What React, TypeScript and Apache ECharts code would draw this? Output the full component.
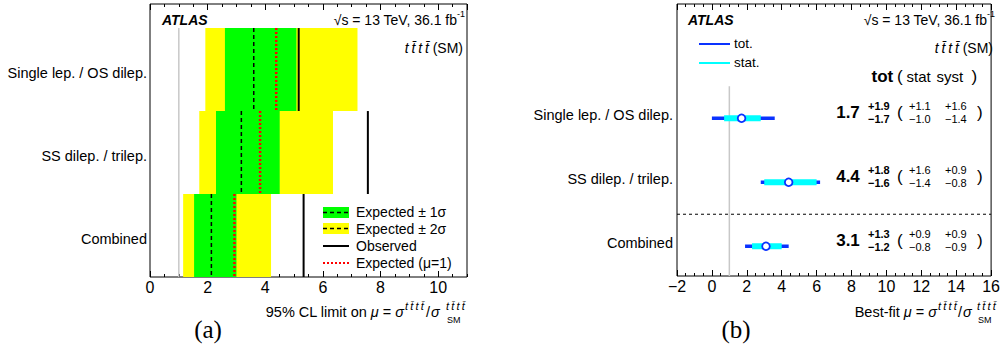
import React, { useEffect, useRef } from "react";
import * as echarts from "echarts";

// ---------- data ----------
const rowLabels = ["Single lep. / OS dilep.", "SS dilep. / trilep.", "Combined"];

// (a) 95% CL limits on mu
const exp2Lo = [1.92, 1.71, 1.15];
const exp2Hi = [7.2, 6.35, 4.2];
const exp1Lo = [2.6, 2.29, 1.53];
const exp1Hi = [5.08, 4.5, 3.0];
const expLimit = [3.6, 3.17, 2.13];
const expMu1 = [4.38, 3.82, 2.93];
const obsLimit = [5.16, 7.56, 5.33];
const smValue = 1;

// (b) best-fit mu
const bestFit = [1.7, 4.4, 3.1];
const totUp = [1.9, 1.8, 1.3];
const totDn = [1.7, 1.6, 1.2];
const statUp = [1.1, 1.6, 0.9];
const statDn = [1.0, 1.4, 0.8];
const systUp = [1.6, 0.9, 0.9];
const systDn = [1.4, 0.8, 0.9];

const SANS = "'Liberation Sans', Arial, Helvetica, sans-serif";
const SERIF = "'Liberation Serif', 'Times New Roman', serif";
const TS = "\u2009";
const TTTT = "t" + TS + "t\u0304" + TS + "t" + TS + "t\u0304";
const MINUS = "\u2212";

function txt(x: number, y: number, text: string, opts: any = {}) {
  const align = opts.align || "left";
  const va = opts.va || "middle";
  return {
    type: "text",
    x,
    y,
    silent: true,
    style: {
      text,
      fill: "#000",
      fontSize: opts.size || 14,
      fontFamily: opts.family || SANS,
      fontWeight: opts.weight || "normal",
      fontStyle: opts.style || "normal",
      align,
      textAlign: align,
      verticalAlign: va,
      textVerticalAlign: va,
      rich: opts.rich,
    },
  };
}

function xAxes(gridIndex: number, min: number, max: number) {
  const base = (position: string, interval: number, len: number, label: boolean) => ({
    type: "value",
    gridIndex,
    min,
    max,
    position,
    interval,
    axisLine: { show: false, onZero: false },
    splitLine: { show: false },
    axisTick: { show: true, inside: true, length: len, lineStyle: { color: "#000", width: 1 } },
    axisLabel: label
      ? {
          show: true,
          margin: 2,
          color: "#000",
          fontSize: 16,
          fontFamily: SANS,
          showMaxLabel: max % 2 === 0,
          formatter: (v: number) => (Math.abs(v % 2) < 1e-9 ? (v < 0 ? MINUS + Math.abs(v) : String(v)) : ""),
        }
      : { show: false },
  });
  return [
    base("bottom", 2, 6, true),
    base("bottom", 0.5, 3, false),
    base("top", 2, 6, false),
    base("top", 0.5, 3, false),
  ];
}

export default function App() {
  const ref = useRef<HTMLDivElement>(null);
  useEffect(() => {
    if (!ref.current) return;
    const chart = echarts.init(ref.current, undefined, { renderer: "svg" });

    const leftData = rowLabels.map((_, i) => [
      i, exp2Lo[i], exp2Hi[i], exp1Lo[i], exp1Hi[i], expLimit[i], expMu1[i], obsLimit[i],
    ]);
    const rightData = rowLabels.map((_, i) => [
      i, bestFit[i], totUp[i], totDn[i], statUp[i], statDn[i], systUp[i], systDn[i],
    ]);

    const fmt = (v: number) => v.toFixed(1);
    const smRich = {
      i: { fontStyle: "italic", fontSize: 14, fontFamily: SANS },
      n: { fontSize: 14, fontFamily: SANS },
    };
    const titleRich = {
      i: { fontStyle: "italic", fontSize: 14.5, fontFamily: SANS },
      n: { fontSize: 14.5, fontFamily: SANS },
    };

    const option: any = {
      animation: false,
      backgroundColor: "#fff",
      grid: [
        { left: 150, top: 4, width: 317, height: 273, show: true, borderColor: "#000", borderWidth: 1, backgroundColor: "transparent" },
        { left: 677, top: 4, width: 319, height: 272, show: true, borderColor: "#000", borderWidth: 1, backgroundColor: "transparent" },
      ],
      xAxis: [...xAxes(0, 0, 11), ...xAxes(1, -2, 16)],
      yAxis: [
        { type: "value", gridIndex: 0, min: -0.29, max: 3, inverse: true, show: false },
        { type: "value", gridIndex: 1, min: -1.785, max: 2.465, inverse: true, show: false },
      ],
      series: [
        // (a) SM reference line
        {
          type: "custom",
          xAxisIndex: 0,
          yAxisIndex: 0,
          data: [[smValue]],
          renderItem: (params: any, api: any) => {
            const a = api.coord([api.value(0), 0]);
            const b = api.coord([api.value(0), rowLabels.length]);
            return {
              type: "line",
              shape: { x1: a[0], y1: a[1], x2: b[0], y2: b[1] },
              style: { stroke: "#c8c8c8", lineWidth: 1.5 },
            };
          },
        },
        // (a) bands and lines
        {
          type: "custom",
          xAxisIndex: 0,
          yAxisIndex: 0,
          data: leftData,
          renderItem: (params: any, api: any) => {
            const i = api.value(0);
            const yT = api.coord([0, i])[1];
            const yB = api.coord([0, i + 1])[1];
            const X = (v: number) => api.coord([v, i])[0];
            const vline = (v: number, style: any) => ({
              type: "line",
              shape: { x1: X(v), y1: yT, x2: X(v), y2: yB },
              style,
            });
            return {
              type: "group",
              children: [
                { type: "rect", shape: { x: X(api.value(1)), y: yT, width: X(api.value(2)) - X(api.value(1)), height: yB - yT }, style: { fill: "#ffff00" } },
                { type: "rect", shape: { x: X(api.value(3)), y: yT, width: X(api.value(4)) - X(api.value(3)), height: yB - yT }, style: { fill: "#00ff00" } },
                vline(api.value(5), { stroke: "#000", lineWidth: 1.5, lineDash: [4, 3] }),
                vline(api.value(6), { stroke: "#ff0000", lineWidth: 2.5, lineDash: [2, 2] }),
                vline(api.value(7), { stroke: "#000", lineWidth: 2 }),
                txt(params.coordSys.x - 3, (yT + yB) / 2 + 3, rowLabels[i], { align: "right", size: 14.5 }),
              ],
            };
          },
        },
        // (b) reference lines
        {
          type: "custom",
          xAxisIndex: 4,
          yAxisIndex: 1,
          data: [[smValue]],
          renderItem: (params: any, api: any) => {
            const a = api.coord([api.value(0), -0.5]);
            const b = api.coord([api.value(0), 2.465]);
            const l = api.coord([-2, 1.5]);
            const r = api.coord([16, 1.5]);
            return {
              type: "group",
              children: [
                { type: "line", shape: { x1: a[0], y1: a[1], x2: b[0], y2: b[1] }, style: { stroke: "#c8c8c8", lineWidth: 1.5 } },
                { type: "line", shape: { x1: l[0], y1: l[1], x2: r[0], y2: r[1] }, style: { stroke: "#000", lineWidth: 1, lineDash: [3, 3] } },
              ],
            };
          },
        },
        // (b) best-fit points
        {
          type: "custom",
          xAxisIndex: 4,
          yAxisIndex: 1,
          data: rightData,
          renderItem: (params: any, api: any) => {
            const i = api.value(0);
            const mu = api.value(1);
            const tu = api.value(2), td = api.value(3), su = api.value(4), sd = api.value(5), yu = api.value(6), yd = api.value(7);
            const c = api.coord([mu, i]);
            const y = c[1];
            const X = (v: number) => api.coord([v, i])[0];
            const ty = y - 6;
            return {
              type: "group",
              children: [
                { type: "line", shape: { x1: X(mu - td), y1: y, x2: X(mu + tu), y2: y }, style: { stroke: "#0a32ff", lineWidth: 3.5 } },
                { type: "line", shape: { x1: X(mu - sd), y1: y, x2: X(mu + su), y2: y }, style: { stroke: "#00ffff", lineWidth: 6 } },
                { type: "circle", shape: { cx: c[0], cy: y, r: 3.8 }, style: { fill: "#fff", stroke: "#0a32ff", lineWidth: 1.8 } },
                txt(params.coordSys.x - 4, y - 3, rowLabels[i], { align: "right", size: 14.5 }),
                txt(848, ty, fmt(mu), { align: "center", size: 17, weight: "bold" }),
                txt(868, ty - 6.5, "+" + fmt(tu), { size: 11, weight: "bold" }),
                txt(868, ty + 6.5, MINUS + fmt(td), { size: 11, weight: "bold" }),
                txt(897, ty, "(", { size: 17 }),
                txt(909, ty - 6.5, "+" + fmt(su), { size: 11 }),
                txt(909, ty + 6.5, MINUS + fmt(sd), { size: 11 }),
                txt(945, ty - 6.5, "+" + fmt(yu), { size: 11 }),
                txt(945, ty + 6.5, MINUS + fmt(yd), { size: 11 }),
                txt(977, ty, ")", { size: 17 }),
              ],
            };
          },
        },
      ],
      graphic: [
        // panel (a) annotations
        txt(162, 20, "ATLAS", { size: 14, weight: "bold", style: "italic" }),
        txt(457, 20, "\u221As = 13 TeV, 36.1 fb", { align: "right", size: 14 }),
        txt(457, 14, "-1", { size: 9 }),
        txt(463, 48, "{i|" + TTTT + "}{n| (SM)}", { align: "right", rich: smRich }),
        // legend (a)
        { type: "rect", shape: { x: 323, y: 207, width: 26, height: 11 }, style: { fill: "#00ff00" } },
        { type: "line", shape: { x1: 323, y1: 212.5, x2: 349, y2: 212.5 }, style: { stroke: "#000", lineWidth: 1.5, lineDash: [4, 3] } },
        { type: "rect", shape: { x: 323, y: 223, width: 26, height: 11 }, style: { fill: "#ffff00" } },
        { type: "line", shape: { x1: 323, y1: 228.5, x2: 349, y2: 228.5 }, style: { stroke: "#000", lineWidth: 1.5, lineDash: [4, 3] } },
        { type: "line", shape: { x1: 323, y1: 246, x2: 349, y2: 246 }, style: { stroke: "#000", lineWidth: 2 } },
        { type: "line", shape: { x1: 323, y1: 263, x2: 349, y2: 263 }, style: { stroke: "#ff0000", lineWidth: 2, lineDash: [2, 2] } },
        txt(356, 212, "Expected \u00B1 1\u03C3", { size: 14 }),
        txt(356, 228.5, "Expected \u00B1 2\u03C3", { size: 14 }),
        txt(356, 245.5, "Observed", { size: 14 }),
        txt(356, 263, "Expected (\u03BC=1)", { size: 14 }),
        // x title (a)
        txt(404, 312, "{n|95% CL limit on }{i|\u03BC}{n| = }{i|\u03C3}", { align: "right", rich: titleRich }),
        txt(405, 306, TTTT, { size: 11, style: "italic" }),
        txt(426, 312, "/", { size: 14.5 }),
        txt(431, 312, "\u03C3", { size: 14.5, style: "italic" }),
        txt(446, 306, TTTT, { size: 11, style: "italic" }),
        txt(447, 320, "SM", { size: 9 }),
        txt(208, 329, "(a)", { align: "center", size: 25, family: SERIF }),

        // panel (b) annotations
        txt(688, 20, "ATLAS", { size: 14, weight: "bold", style: "italic" }),
        txt(987, 20, "\u221As = 13 TeV, 36.1 fb", { align: "right", size: 14 }),
        txt(987, 14, "-1", { size: 9 }),
        txt(993, 48, "{i|" + TTTT + "}{n| (SM)}", { align: "right", rich: smRich }),
        { type: "line", shape: { x1: 699, y1: 44, x2: 730, y2: 44 }, style: { stroke: "#0a32ff", lineWidth: 2 } },
        { type: "line", shape: { x1: 699, y1: 63, x2: 730, y2: 63 }, style: { stroke: "#00ffff", lineWidth: 2 } },
        txt(734, 43, "tot.", { size: 13.5 }),
        txt(734, 62, "stat.", { size: 13.5 }),
        txt(871.5, 76.5, "tot", { size: 17, weight: "bold" }),
        txt(897, 76.5, "(", { size: 17 }),
        txt(906.5, 76.5, "stat", { size: 15 }),
        txt(936.5, 76.5, "syst", { size: 15 }),
        txt(971.5, 76.5, ")", { size: 17 }),
        // x title (b)
        txt(937, 312, "{n|Best-fit }{i|\u03BC}{n| = }{i|\u03C3}", { align: "right", rich: titleRich }),
        txt(938, 306, TTTT, { size: 11, style: "italic" }),
        txt(958, 312, "/", { size: 14.5 }),
        txt(963, 312, "\u03C3", { size: 14.5, style: "italic" }),
        txt(977, 306, TTTT, { size: 11, style: "italic" }),
        txt(978, 320, "SM", { size: 9 }),
        txt(736, 329, "(b)", { align: "center", size: 25, family: SERIF }),
      ],
    };

    chart.setOption(option);
    return () => chart.dispose();
  }, []);

  return (
    <div
      ref={ref}
      style={{ position: "absolute", left: 0, top: 0, width: 1003, height: 345 }}
    />
  );
}
